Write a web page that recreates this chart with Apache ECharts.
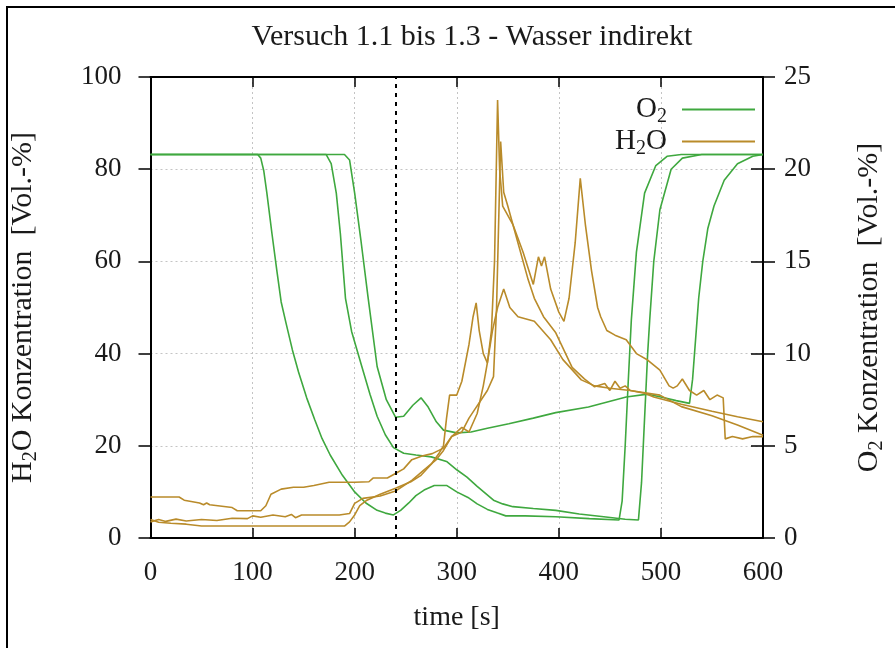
<!DOCTYPE html>
<html>
<head>
<meta charset="utf-8">
<script src="https://cdn.jsdelivr.net/npm/echarts@6/dist/echarts.min.js"></script>
<style>
html,body{margin:0;padding:0;background:#fff;}
#chart{width:895px;height:648px;}
</style>
</head>
<body>
<div id="chart"></div>
<script>
// ---- tick / axis values ----
const timeTicks = [0, 100, 200, 300, 400, 500, 600];
const h2oTicks = [0, 20, 40, 60, 80, 100];
const o2Ticks = [0, 5, 10, 15, 20, 25];
const markerTime = 240;

// ---- O2 concentration [Vol.-%] (right axis), pairs [time s, value] ----
const o2RunA = [[0,20.8],[50,20.8],[105,20.8],[108,20.6],[111,19.9],[114,18.7],[119,16.5],[124,14.4],[128,12.8],[133,11.6],[139,10.2],[145,9.0],[153,7.6],[161,6.4],[168,5.4],[176,4.5],[188,3.4],[200,2.5],[211,1.9],[222,1.5],[230,1.35],[238,1.25],[245,1.5],[253,1.9],[260,2.3],[268,2.6],[278,2.85],[290,2.85],[300,2.5],[311,2.2],[320,1.85],[330,1.55],[340,1.35],[348,1.2],[367,1.2],[397,1.15],[430,1.05],[459,0.98],[462,2.0],[465,5.0],[468,8.5],[471,11.8],[476,15.5],[484,18.7],[495,20.2],[506,20.7],[520,20.8],[600,20.8]];
const o2RunB = [[0,20.8],[100,20.8],[172,20.8],[177,20.3],[182,18.7],[186,16.5],[191,13.0],[197,11.2],[207,9.3],[215,7.8],[222,6.6],[230,5.6],[238,4.9],[248,4.6],[260,4.5],[275,4.4],[290,4.15],[300,3.7],[310,3.3],[320,2.8],[336,2.05],[345,1.85],[355,1.7],[375,1.6],[397,1.5],[420,1.3],[444,1.15],[465,1.02],[478,0.98],[481,3.0],[484,6.5],[487,10.0],[489,11.8],[493,15.0],[499,17.8],[510,20.0],[521,20.6],[540,20.8],[600,20.8]];
const o2RunC = [[0,20.8],[100,20.8],[190,20.8],[195,20.5],[200,18.7],[206,16.2],[213,13.1],[222,9.3],[231,7.5],[240,6.55],[248,6.6],[257,7.2],[265,7.6],[272,7.1],[280,6.3],[287,5.85],[300,5.7],[314,5.75],[330,5.95],[351,6.2],[375,6.5],[397,6.8],[429,7.1],[466,7.65],[487,7.8],[500,7.65],[515,7.45],[528,7.3],[531,8.6],[534,10.8],[537,13.0],[541,15.0],[546,16.8],[552,18.0],[562,19.4],[575,20.3],[590,20.7],[600,20.8]];

// ---- H2O concentration [Vol.-%] (left axis), pairs [time s, value] ----
const h2oRunA = [[0,8.9],[28,8.9],[33,8.2],[48,7.6],[52,7.2],[55,7.6],[58,7.2],[80,6.6],[85,5.9],[108,5.9],[113,7.0],[118,9.5],[128,10.6],[140,11.0],[150,11.0],[160,11.4],[175,12.1],[200,12.1],[214,12.2],[218,13.0],[232,13.0],[240,14.0],[248,15.0],[256,17.0],[266,17.8],[276,18.3],[287,19.5],[295,22],[305,23],[312,26],[318,28],[324,30],[330,32],[336,35],[339,50],[343,86],[346,75],[350,72],[360,64],[370,56],[376,52],[385,48],[397,44.5],[413,37],[425,34.5],[435,32.8],[445,33.5],[450,32],[455,34],[460,32.5],[465,33],[470,32],[484,31.4],[493,30.6],[520,29],[550,27.5],[575,26.3],[600,25.2]];
const h2oRunB = [[0,3.5],[8,4.0],[15,3.6],[25,4.1],[35,3.7],[50,4.0],[65,3.8],[80,4.3],[95,4.2],[100,4.8],[108,4.5],[120,5.0],[132,4.6],[138,5.1],[142,4.4],[148,5.0],[165,5.0],[185,5.0],[195,5.3],[200,7.5],[208,8.6],[225,9.1],[240,10.2],[256,12.5],[268,14.8],[280,17],[287,19],[295,22],[305,24],[312,23],[320,27],[326,33],[330,38],[334,45],[337,60],[340,95],[342,80],[345,72],[355,68],[365,62],[375,55],[380,61],[383,59],[386,61],[392,54],[400,49],[405,47],[410,52],[416,64],[421,78],[426,68],[432,58],[438,50],[441,48],[447,45],[455,44],[466,43],[476,40],[487,38.6],[499,36.4],[508,33],[512,32.5],[516,33],[521,34.5],[528,32],[535,31],[542,32],[548,30],[555,31],[561,30.4],[563,21.5],[570,22],[580,21.5],[590,22],[600,22]];
const h2oRunC = [[0,4.0],[8,3.4],[20,3.2],[35,3.0],[50,2.6],[100,2.6],[150,2.6],[190,2.6],[195,3.5],[200,5.0],[205,7.0],[212,8.2],[225,9.5],[240,10.8],[255,12.2],[265,13.6],[275,16],[283,18.5],[287,20],[290,26],[293,31],[300,31],[305,34],[312,42],[316,48],[319,51],[322,45],[326,40],[330,38],[335,45],[340,50],[346,54],[352,50],[360,48],[376,47],[392,43],[404,38.7],[422,34.3],[435,33],[450,32.5],[470,32],[499,31],[520,28.5],[550,26.5],[575,24.5],[600,22.3]];

const FONT = 'Liberation Serif';
const TXT = '#1a1a1a';
const GREEN = '#3fa83f';
const GOLD = '#b98b2a';

function richSet(size) {
  return {
    n: {fontFamily: FONT, fontSize: size, color: TXT},
    s: {fontFamily: FONT, fontSize: Math.round(size * 0.68), color: TXT, padding: [Math.round(size * 0.5), 0, 0, 0]}
  };
}

const chart = echarts.init(document.getElementById('chart'), null, {renderer: 'canvas'});

function lineSeries(name, data, yIdx, color, extra) {
  return Object.assign({
    name: name, type: 'line', data: data, xAxisIndex: 0, yAxisIndex: yIdx,
    showSymbol: false, symbol: 'none', smooth: false,
    lineStyle: {color: color, width: 1.6}, itemStyle: {color: color},
    animation: false, silent: true
  }, extra || {});
}

const option = {
  animation: false,
  backgroundColor: '#fff',
  title: {
    text: 'Versuch 1.1 bis 1.3 - Wasser indirekt',
    left: 467, top: 17, textAlign: 'center',
    textStyle: {fontFamily: FONT, fontSize: 30, fontWeight: 'normal', color: TXT}
  },
  grid: {left: 143, right: 103, top: 77, bottom: 110, containLabel: false},
  legend: {
    data: ['O2', 'H2O'],
    orient: 'vertical', align: 'right',
    right: 135, top: 90, itemGap: 0,
    icon: 'rect', itemWidth: 73, itemHeight: 2,
    selectedMode: false,
    formatter: function (n) { return n === 'O2' ? '{n|O}{s|2}' : '{n|H}{s|2}{n|O}'; },
    textStyle: {fontFamily: FONT, fontSize: 29, color: TXT, padding: [0, 10, 0, 0], rich: richSet(29)}
  },
  xAxis: [{
    type: 'value', position: 'bottom', min: 0, max: 600, interval: 100,
    name: 'time [s]', nameLocation: 'middle', nameGap: 66,
    nameTextStyle: {fontFamily: FONT, fontSize: 28, color: TXT},
    axisLine: {show: true, onZero: false, lineStyle: {color: '#000', width: 2}},
    axisTick: {show: true, inside: true, length: 10, lineStyle: {color: '#000', width: 1.5}},
    axisLabel: {fontFamily: FONT, fontSize: 27, color: TXT, margin: 21,
      formatter: function (v) { return timeTicks.indexOf(v) >= 0 ? String(v) : ''; }},
    splitLine: {show: true, lineStyle: {color: '#c4c4c4', type: [2, 3], width: 1}}
  }, {
    type: 'value', position: 'top', min: 0, max: 600, interval: 100,
    axisLine: {show: true, onZero: false, lineStyle: {color: '#000', width: 2}},
    axisTick: {show: true, inside: true, length: 10, lineStyle: {color: '#000', width: 1.5}},
    axisLabel: {show: false}, splitLine: {show: false}
  }],
  yAxis: [{
    type: 'value', position: 'left', min: 0, max: 100, interval: 20,
    name: '{n|H}{s|2}{n|O Konzentration  [Vol.-%]}',
    nameLocation: 'middle', nameRotate: 90, nameGap: 110,
    nameTextStyle: {fontFamily: FONT, fontSize: 30, color: TXT, rich: richSet(30)},
    axisLine: {show: true, onZero: false, lineStyle: {color: '#000', width: 2}},
    axisTick: {show: true, inside: false, length: 12, lineStyle: {color: '#000', width: 1.5}},
    axisLabel: {fontFamily: FONT, fontSize: 27, color: TXT, margin: 29,
      formatter: function (v) { return h2oTicks.indexOf(v) >= 0 ? String(v) : ''; }},
    splitLine: {show: true, lineStyle: {color: '#c4c4c4', type: [2, 3], width: 1}}
  }, {
    type: 'value', position: 'right', min: 0, max: 25, interval: 5,
    name: '{n|O}{s|2}{n| Konzentration  [Vol.-%]}',
    nameLocation: 'middle', nameRotate: 90, nameGap: 89,
    nameTextStyle: {fontFamily: FONT, fontSize: 30, color: TXT, rich: richSet(30)},
    axisLine: {show: true, onZero: false, lineStyle: {color: '#000', width: 2}},
    axisTick: {show: true, inside: true, length: 12, lineStyle: {color: '#000', width: 1.5}},
    axisLabel: {fontFamily: FONT, fontSize: 27, color: TXT, margin: 21,
      formatter: function (v) { return o2Ticks.indexOf(v) >= 0 ? String(v) : ''; }},
    splitLine: {show: false}
  }, {
    type: 'value', position: 'right', min: 0, max: 25, interval: 5,
    axisLine: {show: false, onZero: false},
    axisTick: {show: true, inside: false, length: 12, lineStyle: {color: '#000', width: 1.5}},
    axisLabel: {show: false}, splitLine: {show: false}
  }],
  graphic: [{
    type: 'polyline', silent: true,
    shape: {points: [[7, 648], [7, 7], [895, 7]]},
    style: {stroke: '#000', lineWidth: 2, fill: null}
  }],
  series: [
    lineSeries('O2', o2RunA, 1, GREEN, {
      markLine: {
        silent: true, symbol: ['none', 'none'], animation: false,
        label: {show: false},
        lineStyle: {color: '#000', type: [4, 5], width: 2},
        data: [{xAxis: markerTime}]
      }
    }),
    lineSeries('O2', o2RunB, 1, GREEN),
    lineSeries('O2', o2RunC, 1, GREEN),
    lineSeries('H2O', h2oRunA, 0, GOLD),
    lineSeries('H2O', h2oRunB, 0, GOLD),
    lineSeries('H2O', h2oRunC, 0, GOLD)
  ]
};
chart.setOption(option);
</script>
</body>
</html>
